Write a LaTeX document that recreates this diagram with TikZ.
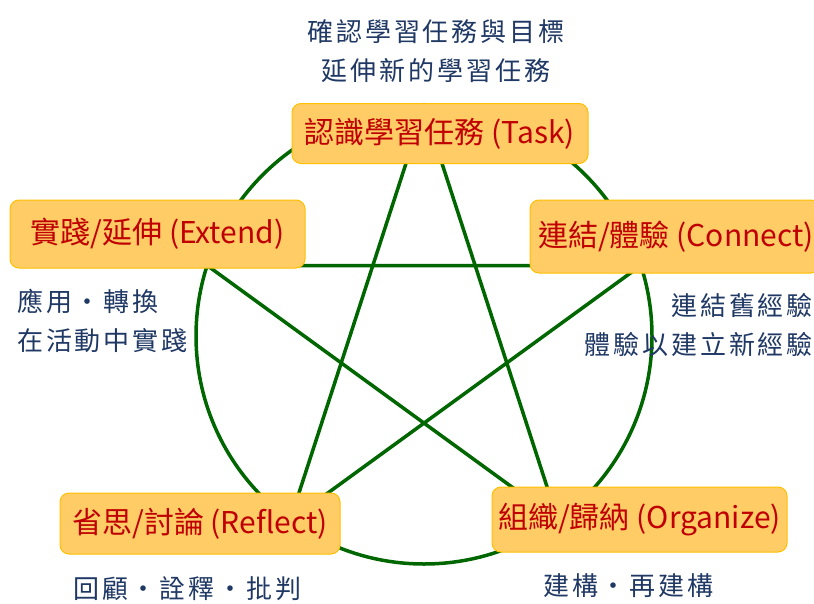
\documentclass[tikz,border=0pt]{standalone}
\usepackage{fontspec}
\newfontfamily\cjk{Noto Sans CJK TC}
\newfontfamily\cjknote[LetterSpace=11]{Noto Sans CJK TC}
\definecolor{stargreen}{RGB}{0,102,0}
\definecolor{boxfill}{RGB}{255,204,102}
\definecolor{boxline}{RGB}{255,192,0}
\definecolor{labred}{RGB}{192,0,0}
\definecolor{noteblue}{RGB}{31,56,100}
\tikzset{
  box/.style={draw=boxline, line width=1pt, fill=boxfill, rounded corners=9pt, inner sep=0pt,
    text=labred, font=\cjk\fontsize{30}{34}\selectfont},
  note/.style={text=noteblue, font=\cjknote\fontsize{26}{39}\selectfont, inner sep=0pt},
  starline/.style={draw=stargreen, line width=3.5pt}
}
\begin{document}
\begin{tikzpicture}[x=1pt,y=-1pt]
\useasboundingbox (0,0) rectangle (814,603);
\clip (0,0) rectangle (814,603);
% pentagram vertices on circle
\coordinate (c) at (424,336);
\coordinate (vt) at (424,108);
\coordinate (vl) at (207.2,265.5);
\coordinate (vr) at (640.8,265.5);
\coordinate (vbl) at (290,520.5);
\coordinate (vbr) at (558,520.5);
\draw[starline] (vt) -- (vbl) -- (vr) -- (vl) -- (vbr) -- cycle;
\draw[starline] (c) circle[radius=228];
% boxes
\node[box, minimum width=296, minimum height=60] (task) at (440,133.5) {認識學習任務 (Task)};
\node[box, minimum width=295, minimum height=68] (extend) at (157.5,234) {實踐/延伸 (Extend)};
\node[box, minimum width=290, minimum height=73] (connect) at (675,236.5) {\hspace*{2pt}連結/體驗 (Connect)};
\node[box, minimum width=280, minimum height=61] (reflect) at (200,523.5) {省思/討論 (Reflect)};
\node[box, minimum width=295, minimum height=65] (organize) at (639.5,519.5) {組織/歸納 (Organize)};
% notes
\node[note, align=center] (ntop) at (436,51.5) {確認學習任務與目標\\延伸新的學習任務};
\node[note, align=left, anchor=west] (nleft) at (17,321) {應用・轉換\\在活動中實踐};
\node[note, align=right, anchor=east] (nright) at (813,325) {連結舊經驗\\體驗以建立新經驗};
\node[note, anchor=west] (nbl) at (73,588.5) {回顧・詮釋・批判};
\node[note, anchor=west] (nbr) at (543,586) {建構・再建構};
\end{tikzpicture}
\end{document}
